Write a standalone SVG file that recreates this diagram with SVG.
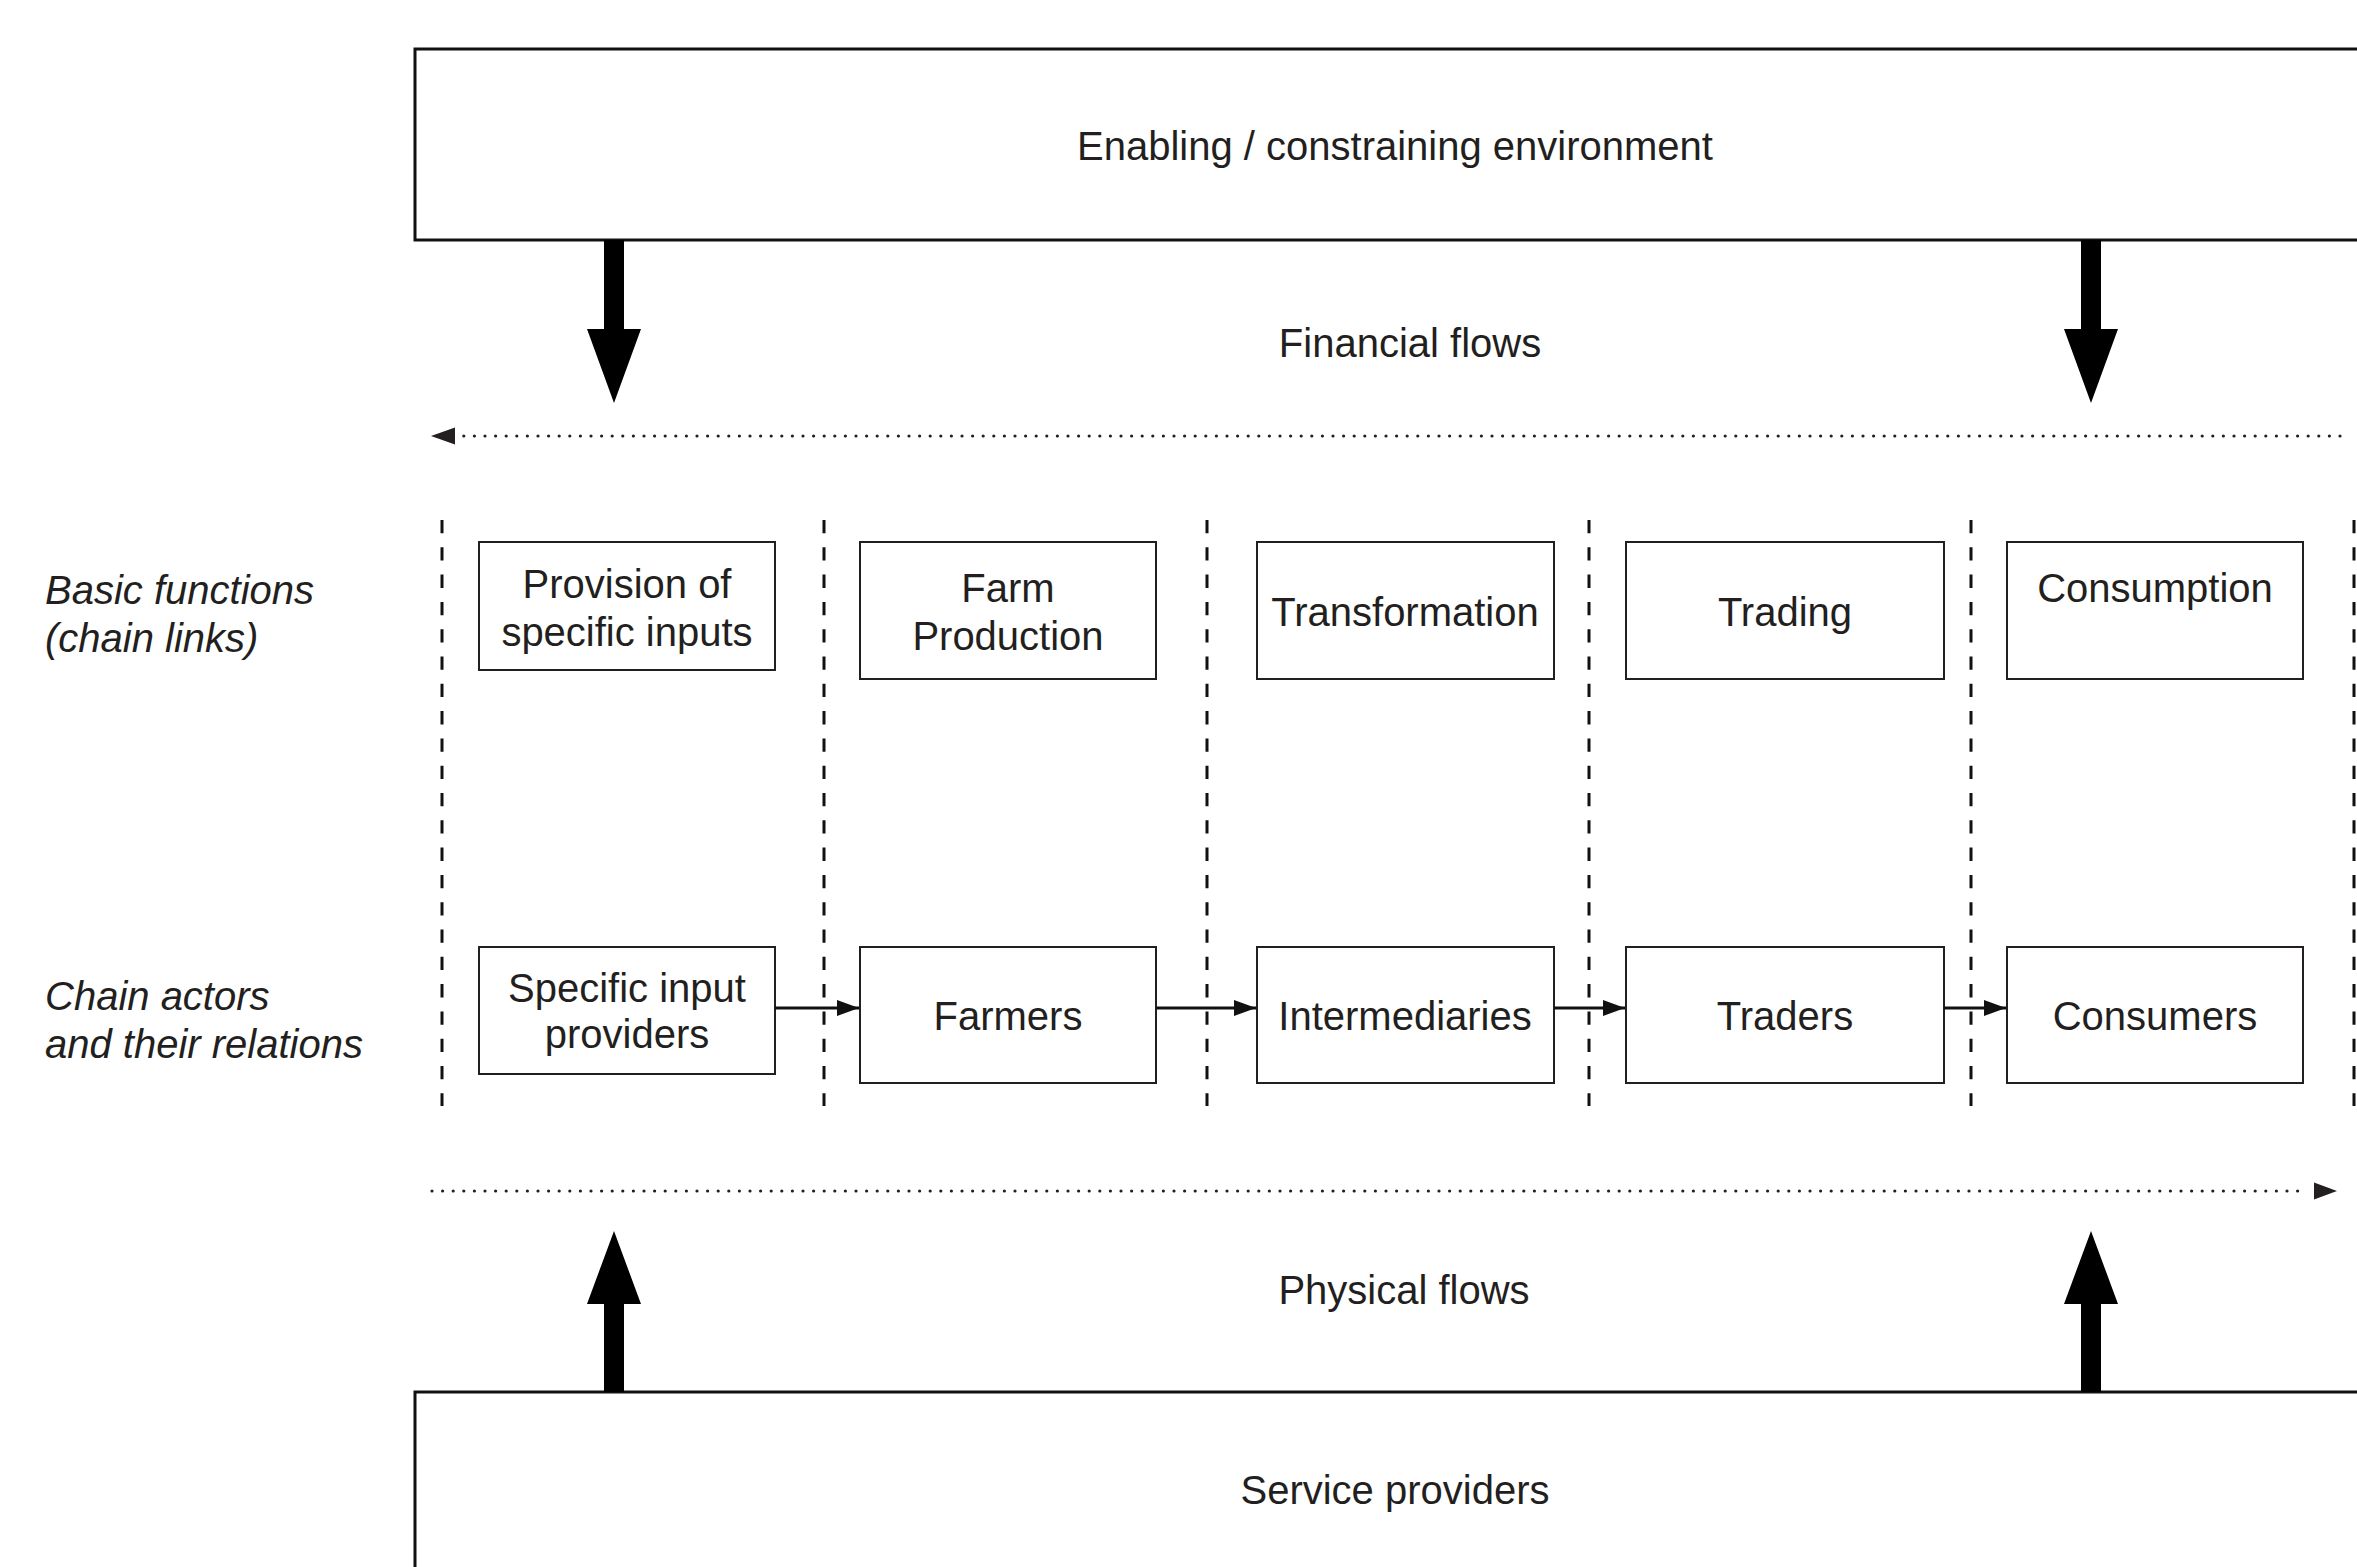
<svg xmlns="http://www.w3.org/2000/svg" width="2357" height="1567" viewBox="0 0 2357 1567">
<style>
text{font-family:"Liberation Sans",Arial,Helvetica,sans-serif;font-size:40px;fill:#231f20}
.c{text-anchor:middle}
.it{font-style:italic}
.big{fill:#fff;stroke:#111;stroke-width:3}
.box{fill:#fff;stroke:#231f20;stroke-width:2}
.dash{stroke:#111;stroke-width:3;stroke-dasharray:13.3 14;fill:none}
.dot{stroke:#231f20;stroke-width:3.2;stroke-dasharray:0 10.6;stroke-linecap:round;fill:none}
.link{stroke:#111;stroke-width:3;fill:none}
.fat{fill:#000}
</style>
<defs>
<marker id="ah" markerUnits="userSpaceOnUse" viewBox="0 0 22 16" refX="22" refY="8" markerWidth="22" markerHeight="16" orient="auto">
<path d="M0,0 L22,8 L0,16 Z" fill="#111"/>
</marker>
</defs>

<g id="environment">
<rect class="big" x="415" y="49" width="2100" height="191"/>
<text class="c" x="1395" y="160">Enabling / constraining environment</text>
</g>

<g id="service-providers">
<rect class="big" x="415" y="1392" width="2100" height="300"/>
<text class="c" x="1395" y="1504">Service providers</text>
</g>

<g id="separators">
<line class="dash" x1="442" y1="520" x2="442" y2="1106"/>
<line class="dash" x1="824" y1="520" x2="824" y2="1106"/>
<line class="dash" x1="1207" y1="520" x2="1207" y2="1106"/>
<line class="dash" x1="1589" y1="520" x2="1589" y2="1106"/>
<line class="dash" x1="1971" y1="520" x2="1971" y2="1106"/>
<line class="dash" x1="2354" y1="520" x2="2354" y2="1106"/>
</g>

<g id="row-labels">
<text class="it" x="45" y="604">Basic functions</text>
<text class="it" x="45" y="652">(chain links)</text>
<text class="it" x="45" y="1010">Chain actors</text>
<text class="it" x="45" y="1058">and their relations</text>
</g>

<g id="fn-provision">
<rect class="box" x="479" y="542" width="296" height="128"/>
<text class="c" x="627" y="598">Provision of</text>
<text class="c" x="627" y="646">specific inputs</text>
</g>
<g id="fn-farm">
<rect class="box" x="860" y="542" width="296" height="137"/>
<text class="c" x="1008" y="602">Farm</text>
<text class="c" x="1008" y="650">Production</text>
</g>
<g id="fn-transformation">
<rect class="box" x="1257" y="542" width="297" height="137"/>
<text class="c" x="1405" y="626">Transformation</text>
</g>
<g id="fn-trading">
<rect class="box" x="1626" y="542" width="318" height="137"/>
<text class="c" x="1785" y="626">Trading</text>
</g>
<g id="fn-consumption">
<rect class="box" x="2007" y="542" width="296" height="137"/>
<text class="c" x="2155" y="602">Consumption</text>
</g>

<g id="act-input-providers">
<rect class="box" x="479" y="947" width="296" height="127"/>
<text class="c" x="627" y="1002">Specific input</text>
<text class="c" x="627" y="1048">providers</text>
</g>
<g id="act-farmers">
<rect class="box" x="860" y="947" width="296" height="136"/>
<text class="c" x="1008" y="1030">Farmers</text>
</g>
<g id="act-intermediaries">
<rect class="box" x="1257" y="947" width="297" height="136"/>
<text class="c" x="1405" y="1030">Intermediaries</text>
</g>
<g id="act-traders">
<rect class="box" x="1626" y="947" width="318" height="136"/>
<text class="c" x="1785" y="1030">Traders</text>
</g>
<g id="act-consumers">
<rect class="box" x="2007" y="947" width="296" height="136"/>
<text class="c" x="2155" y="1030">Consumers</text>
</g>

<g id="flow-labels">
<text class="c" x="1410" y="357">Financial flows</text>
<text class="c" x="1404" y="1304">Physical flows</text>
</g>

<g id="connectors">
<line class="link" x1="775" y1="1008" x2="859" y2="1008" marker-end="url(#ah)"/>
<line class="link" x1="1156" y1="1008" x2="1256" y2="1008" marker-end="url(#ah)"/>
<line class="link" x1="1554" y1="1008" x2="1625" y2="1008" marker-end="url(#ah)"/>
<line class="link" x1="1944" y1="1008" x2="2006" y2="1008" marker-end="url(#ah)"/>
<line class="dot" x1="2340" y1="436" x2="462" y2="436"/>
<path d="M455,427.5 L431,436 L455,444.5 Z" fill="#231f20"/>
<line class="dot" x1="432" y1="1191" x2="2307" y2="1191"/>
<path d="M2314,1182.5 L2337,1191 L2314,1199.5 Z" fill="#231f20"/>
<path class="fat" d="M604,240 H624 V329 H641 L614,403 L587,329 H604 Z"/>
<path class="fat" d="M2081,240 H2101 V329 H2118 L2091,403 L2064,329 H2081 Z"/>
<path class="fat" d="M604,1392 H624 V1304 H641 L614,1231 L587,1304 H604 Z"/>
<path class="fat" d="M2081,1392 H2101 V1304 H2118 L2091,1231 L2064,1304 H2081 Z"/>
</g>
</svg>
